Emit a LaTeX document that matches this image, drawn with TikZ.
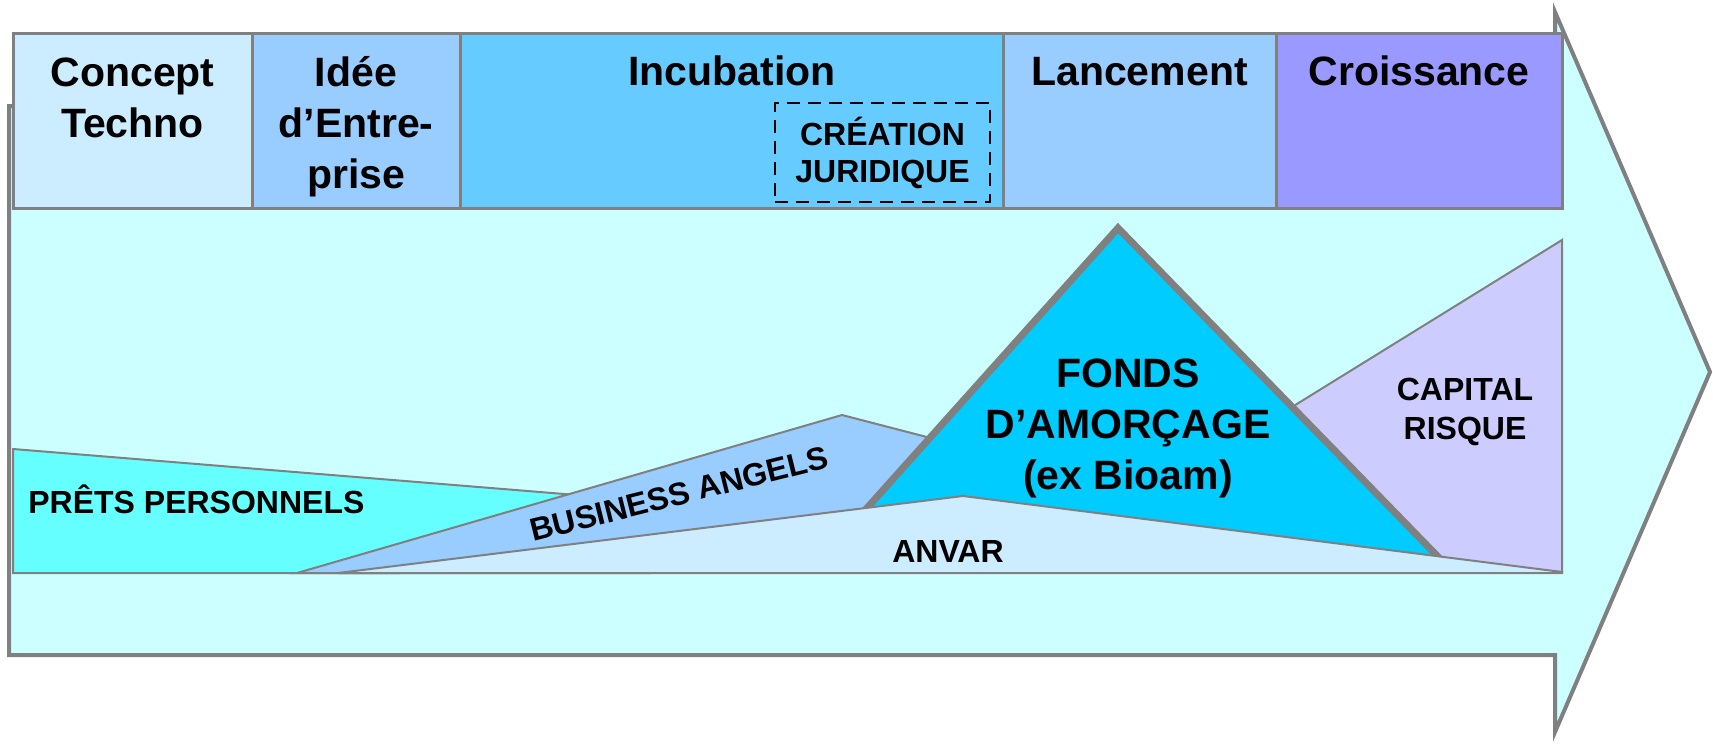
\documentclass[tikz,border=0pt]{standalone}
\usepackage{fontspec}
\setmainfont{Liberation Sans}
\usepackage{tikz}
\definecolor{linegray}{HTML}{808080}
\definecolor{arrowfill}{HTML}{CCFFFF}
\definecolor{conceptfill}{HTML}{CCECFF}
\definecolor{ideefill}{HTML}{99CCFF}
\definecolor{incubfill}{HTML}{66CCFF}
\definecolor{lancefill}{HTML}{99CCFF}
\definecolor{croisfill}{HTML}{9999FF}
\definecolor{pretsfill}{HTML}{66FFFF}
\definecolor{angelsfill}{HTML}{99CCFF}
\definecolor{fondsfill}{HTML}{00CCFF}
\definecolor{capitalfill}{HTML}{CCCCFF}
\definecolor{anvarfill}{HTML}{CCECFF}

\begin{document}
\begin{tikzpicture}[
  x=0.5pt, y=-0.5pt,
  cell/.style={draw=linegray, line width=1.5pt},
  band/.style={draw=linegray, line width=1pt, line join=miter},
  big/.style={font=\fontsize{20.5}{25.5}\selectfont\bfseries, inner sep=0pt, align=center},
  small/.style={font=\fontsize{16}{18.5}\selectfont\bfseries, inner sep=0pt, align=center},
  every node/.style={text=black}
]
\useasboundingbox (0,0) rectangle (1713,755);

% Big arrow
\path[draw=linegray, fill=arrowfill, line width=2pt, line join=miter]
  (9,106) -- (1555,106) -- (1555,12) -- (1710,372) -- (1555,732) -- (1555,655) -- (9,655) -- cycle;

% Header cells
\path[cell, fill=conceptfill] (13,33) rectangle (252,208);
\path[cell, fill=ideefill] (252,33) rectangle (460,208);
\path[cell, fill=incubfill] (460,33) rectangle (1003,208);
\path[cell, fill=lancefill] (1003,33) rectangle (1276,208);
\path[cell, fill=croisfill] (1276,33) rectangle (1562,208);

\node[big, anchor=north] (concept) at (132.5,57) {Concept\\Techno};
\node[big, anchor=north] (idee) at (356,56) {Idée\\d’Entre-\\prise};
\node[big, anchor=base] (incub) at (732,85) {Incubation};
\node[big, anchor=base] (lance) at (1139.5,85) {Lancement};
\node[big, anchor=base] (crois) at (1419,85) {Croissance};
\node[small, draw=black, line width=1.3pt, dash pattern=on 6.5pt off 4pt,
  minimum width=107.5pt, minimum height=49.5pt] (creation) at (882.5,152.5) {CRÉATION\\JURIDIQUE};

% Financing shapes
\path[band, fill=pretsfill] (13,449) -- (650,501) -- (650,573) -- (13,573) -- cycle;
\path[band, fill=angelsfill] (297,573) -- (842,415) -- (1000,456) -- (1000,540) -- (400,573) -- cycle;
\path[band, fill=capitalfill] (1562,240) -- (1250,433) -- (1250,545) -- (1562,572) -- cycle;
\path[draw=linegray, fill=fondsfill, line width=3.5pt, line join=miter]
  (1118,228) -- (815,566) -- (1447,566) -- cycle;
\path[band, fill=anvarfill] (338,573) -- (963,496) -- (1562,572) -- (1562,573) -- cycle;

\node[small, anchor=base west] (prets) at (28,513) {PRÊTS PERSONNELS};
\node[small, rotate=14] (angels) at (679,494) {BUSINESS ANGELS};
\node[big, anchor=north] (fonds) at (1128,358) {FONDS\\D’AMORÇAGE\\(ex Bioam)};
\node[small, anchor=north, font=\fontsize{16}{19.5}\selectfont\bfseries] (capital) at (1465,378) {CAPITAL\\RISQUE};
\node[small, anchor=base] (anvar) at (948,562) {ANVAR};

\end{tikzpicture}
\end{document}
